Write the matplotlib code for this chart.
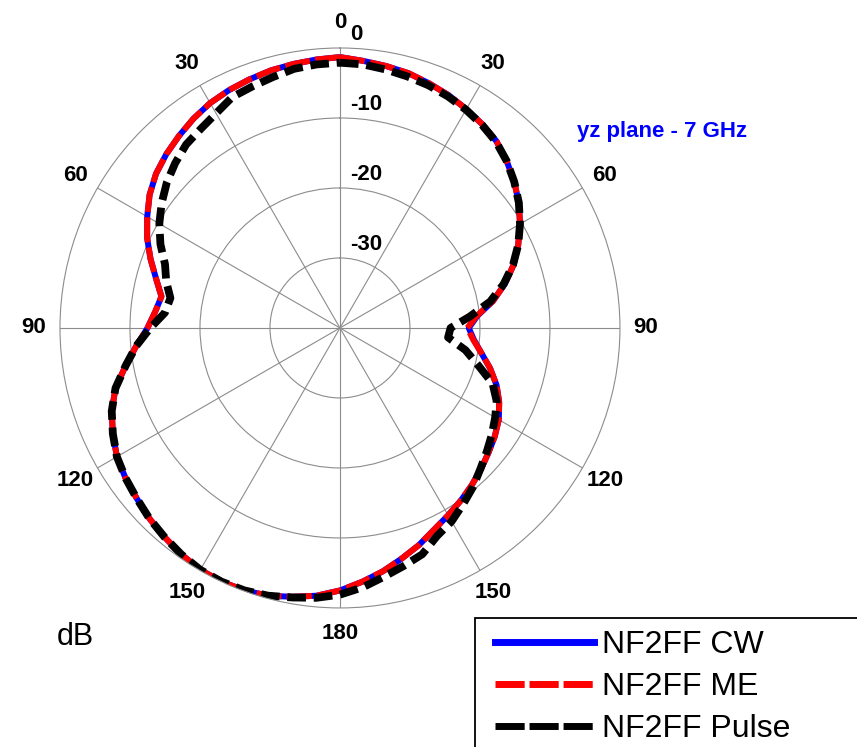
import numpy as np
import matplotlib
matplotlib.use("Agg")
import matplotlib.pyplot as plt
from matplotlib.patches import Rectangle
from matplotlib.lines import Line2D

plt.rcParams['font.family'] = ['Liberation Sans', 'DejaVu Sans']

# angle in degrees, clockwise from top (0..355, step 5)
theta_deg = np.arange(0, 360, 5)

cw_db = [-1.3, -1.7, -2.0, -2.3, -2.8, -3.3, -3.9, -4.5, -5.2, -6.3, -7.5, -8.8,
         -10.3, -11.9, -13.6, -15.6, -17.8, -20.3, -21.6, -20.8, -19.5, -17.8, -16.2, -14.9,
         -13.8, -13.0, -12.3, -11.5, -10.7, -9.9, -9.1, -8.2, -7.0, -5.9, -4.7, -3.6,
         -2.5, -1.6, -1.0, -0.4, -0.1, 0.0, -0.1, -0.5, -1.0, -1.5, -2.1, -2.6,
         -3.2, -4.2, -5.3, -6.8, -8.9, -10.8, -12.5, -13.5, -14.1, -12.8, -11.2, -9.6,
         -8.2, -6.8, -5.7, -4.9, -4.2, -3.5, -2.9, -2.5, -2.2, -1.9, -1.7, -1.5]

me_db = [-1.3, -1.7, -2.0, -2.3, -2.8, -3.3, -3.9, -4.5, -5.2, -6.3, -7.5, -8.8,
         -10.3, -11.9, -13.6, -15.6, -17.8, -20.4, -21.8, -20.9, -19.5, -17.8, -16.2, -14.9,
         -13.8, -13.0, -12.3, -11.5, -10.7, -9.9, -9.1, -8.2, -7.0, -5.9, -4.7, -3.6,
         -2.5, -1.6, -1.0, -0.4, -0.1, 0.0, -0.1, -0.5, -1.0, -1.5, -2.1, -2.6,
         -3.2, -4.2, -5.3, -6.8, -8.9, -10.8, -12.5, -13.5, -14.1, -12.8, -11.2, -9.6,
         -8.2, -6.8, -5.7, -4.9, -4.2, -3.5, -2.9, -2.5, -2.2, -1.9, -1.7, -1.5]

pulse_db = [-2.1, -2.2, -2.5, -2.8, -3.1, -3.5, -4.0, -4.6, -5.3, -6.3, -7.5, -8.8,
            -10.3, -11.9, -13.7, -15.8, -18.2, -21.4, -24.2, -24.5, -21.8, -19.6, -16.8, -15.3,
            -14.4, -13.5, -12.6, -11.6, -10.4, -9.3, -8.1, -7.2, -5.6, -4.8, -3.9, -2.8,
            -1.9, -1.3, -0.9, -0.4, -0.1, 0.0, -0.1, -0.5, -1.0, -1.5, -2.1, -2.6,
            -3.2, -4.2, -5.3, -6.8, -8.9, -10.8, -12.9, -14.9, -15.4, -14.3, -13.4, -11.7,
            -10.2, -8.9, -7.7, -6.7, -5.8, -5.3, -4.6, -3.6, -3.3, -2.9, -2.4, -2.2]

series_names = ['NF2FF CW', 'NF2FF ME', 'NF2FF Pulse']
angle_ticks = np.arange(0, 360, 30)
angle_labels = [str(min(a, 360 - a)) for a in angle_ticks]
ring_ticks = [-30, -20, -10, 0]
ring_labels = ['-30', '-20', '-10', '0']


def closed(vals):
    t = np.deg2rad(np.append(theta_deg, 360))
    v = np.append(vals, vals[0])
    return t, v


fig = plt.figure(figsize=(8.57, 7.47), dpi=100)
ax = fig.add_axes([0.0700, 0.1861, 0.6534, 0.7497], projection='polar')
ax.set_theta_zero_location('N')
ax.set_theta_direction(-1)
ax.set_ylim(-40, 0)

ax.set_xticks(np.deg2rad(angle_ticks))
ax.set_xticklabels([])
ax.set_yticks(ring_ticks[:-1])
ax.set_yticklabels([])
ax.grid(True, color='#8c8c8c', lw=0.8, ls='-')
ax.spines['polar'].set_color('#8c8c8c')
ax.spines['polar'].set_linewidth(0.8)

t, v = closed(cw_db)
ax.plot(t, v, color='#0000ff', lw=4.3, solid_capstyle='butt', label=series_names[0])
t, v = closed(me_db)
ax.plot(t, v, color='#ff0000', lw=4.3, ls=(0, (4.2, 0.9)), label=series_names[1])
t, v = closed(pulse_db)
ax.plot(t, v, color='black', lw=5.6, ls=(0, (2.4, 1.0)), label=series_names[2])

# angle labels around the outside
for a, lab in zip(angle_ticks, angle_labels):
    ax.text(np.deg2rad(a), 3.7, lab, ha='center', va='center',
            fontsize=16, fontweight='bold', clip_on=False)

# dB ring labels
for r, lab in zip(ring_ticks, ring_labels):
    ax.annotate(lab, xy=(0, r), xytext=(10, 13), textcoords='offset pixels',
                ha='left', va='center', fontsize=16, fontweight='bold',
                annotation_clip=False)

fig.text(577 / 857, 1 - 131 / 747, 'yz plane - 7 GHz', color='#0000ff',
         fontsize=16, fontweight='bold', ha='left', va='center')
fig.text(57 / 857, 1 - 637 / 747, 'dB', fontsize=22, ha='left', va='center')

handles = [Line2D([], [], color='#0000ff', lw=5),
           Line2D([], [], color='#ff0000', lw=5, ls=(0, (4.2, 0.7))),
           Line2D([], [], color='black', lw=5, ls=(0, (4.2, 0.7)))]
fig.legend(handles, series_names, loc='upper left',
           bbox_to_anchor=(495 / 857, 1 - 630 / 747), frameon=False,
           fontsize=23, handlelength=3.1, handletextpad=0.25,
           labelspacing=0.38, borderpad=0, borderaxespad=0)
fig.add_artist(Rectangle((475 / 857, -0.1), 0.6, 0.1 + 1 - 618 / 747,
                         transform=fig.transFigure, fill=False,
                         edgecolor='black', lw=1.3))

fig.savefig('out.png', dpi=100)
